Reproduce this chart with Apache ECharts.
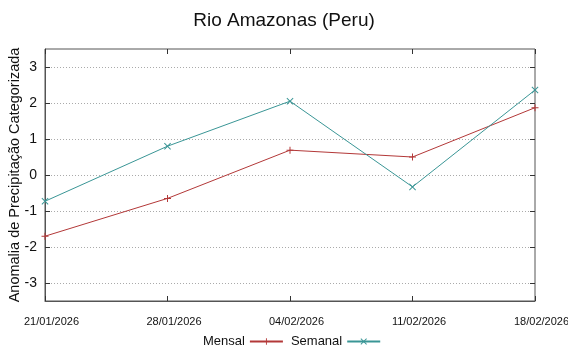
<!DOCTYPE html>
<html>
<head>
<meta charset="utf-8">
<script src="https://cdn.jsdelivr.net/npm/echarts@6/dist/echarts.min.js"></script>
<style>
  html, body { margin: 0; padding: 0; background: #fff; }
  #chart { width: 568px; height: 351px; }
</style>
</head>
<body>
<div id="chart"></div>
<script>
// Weekly dates on the horizontal axis
const dates = ['21/01/2026', '28/01/2026', '04/02/2026', '11/02/2026', '18/02/2026'];
// Categorised precipitation anomaly, monthly and weekly
const mensal = [-1.7, -0.65, 0.69, 0.5, 1.87];
const semanal = [-0.73, 0.8, 2.05, -0.33, 2.36];
// Value-axis ticks
const yTicks = [-3, -2, -1, 0, 1, 2, 3];

const FONT = 'Liberation Sans';
const plusPath = 'path://M4.3,0h1.4v10h-1.4zM0,4.3h10v1.4h-10z';
const crossPath = 'path://M0,1L1,0L10,9L9,10zM9,0L10,1L1,10L0,9z';

const chart = echarts.init(document.getElementById('chart'), null, { renderer: 'canvas' });

chart.setOption({
  animation: false,
  backgroundColor: '#fff',
  textStyle: { fontFamily: FONT },
  title: {
    text: 'Rio Amazonas (Peru)',
    left: 'center',
    top: 6,
    textStyle: { fontFamily: FONT, fontSize: 19, fontWeight: 'normal', color: '#111' }
  },
  legend: {
    top: 330,
    left: 198,
    align: 'right',
    itemWidth: 33,
    itemHeight: 8,
    itemGap: 7,
    textStyle: { fontFamily: FONT, fontSize: 13, color: '#111' },
    data: ['Mensal', 'Semanal']
  },
  grid: {
    left: 45, right: 33, top: 49, bottom: 50,
    outerBoundsMode: 'none',
    containLabel: false,
    show: true, borderColor: '#555', borderWidth: 1, backgroundColor: 'transparent'
  },
  xAxis: [{
    type: 'category',
    data: dates,
    boundaryGap: false,
    axisLine: { show: true, onZero: false, lineStyle: { color: '#555' } },
    axisTick: { show: true, inside: true, length: 5, alignWithLabel: true, lineStyle: { color: '#333' } },
    axisLabel: {
      fontFamily: FONT, fontSize: 11, color: '#111', margin: 15,
      padding: [0, 0, 0, 13],
      showMinLabel: true, showMaxLabel: true, interval: 0, hideOverlap: false
    },
    splitLine: { show: false }
  }, {
    type: 'category',
    data: dates,
    position: 'top',
    boundaryGap: false,
    axisLine: { show: false, onZero: false },
    axisTick: { show: true, inside: true, length: 5, lineStyle: { color: '#333' } },
    axisLabel: { show: false },
    splitLine: { show: false }
  }],
  yAxis: [{
    type: 'value',
    min: -3.5,
    max: 3.5,
    name: 'Anomalia de Precipitação Categorizada',
    nameLocation: 'middle',
    nameGap: 23,
    nameMoveOverlap: false,
    nameTextStyle: { fontFamily: FONT, fontSize: 14.5, color: '#111' },
    axisLine: { show: true, onZero: false, lineStyle: { color: '#555' } },
    axisTick: { show: true, inside: true, length: 5, customValues: yTicks, lineStyle: { color: '#333' } },
    axisLabel: { fontFamily: FONT, fontSize: 14, color: '#111', margin: 8, customValues: yTicks },
    splitLine: { show: true, lineStyle: { color: '#aaa', type: [1, 2], width: 1 } }
  }, {
    type: 'value',
    min: -3.5,
    max: 3.5,
    position: 'right',
    axisLine: { show: false, onZero: false },
    axisTick: { show: true, inside: true, length: 5, customValues: yTicks, lineStyle: { color: '#333' } },
    axisLabel: { show: false, customValues: yTicks },
    splitLine: { show: false }
  }],
  series: [{
    name: 'Mensal',
    type: 'line',
    data: mensal,
    symbol: plusPath,
    symbolSize: 7,
    showSymbol: true,
    color: '#b33838',
    lineStyle: { width: 1, color: '#b33838' },
    itemStyle: { color: '#b33838' },
    clip: false
  }, {
    name: 'Semanal',
    type: 'line',
    data: semanal,
    symbol: crossPath,
    symbolSize: 7,
    showSymbol: true,
    color: '#3a9696',
    lineStyle: { width: 1, color: '#3a9696' },
    itemStyle: { color: '#3a9696' },
    clip: false
  }]
});
</script>
</body>
</html>
